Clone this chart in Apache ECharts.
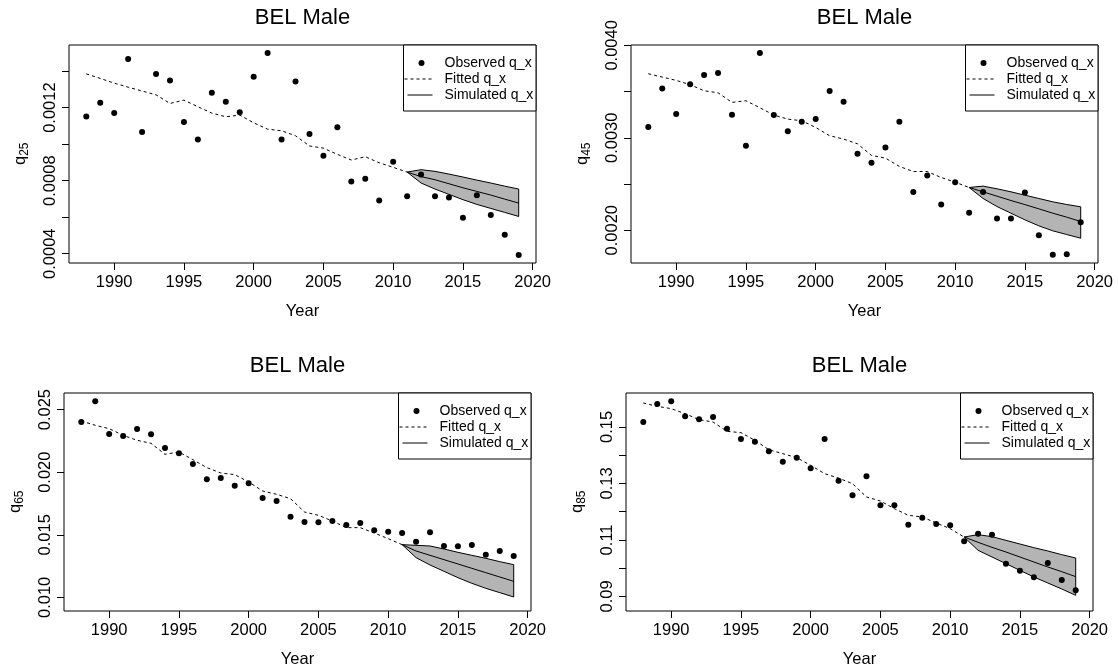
<!DOCTYPE html>
<html>
<head>
<meta charset="utf-8">
<script src="https://cdn.jsdelivr.net/npm/echarts@6/dist/echarts.min.js"></script>
<style>
  html, body { margin: 0; padding: 0; background: #fff; }
  #chart { width: 1118px; height: 669px; }
</style>
</head>
<body>
<div id="chart"></div>
<script>
// Years of observation and of the simulated projection
const years = [1988, 1989, 1990, 1991, 1992, 1993, 1994, 1995, 1996, 1997, 1998, 1999,
  2000, 2001, 2002, 2003, 2004, 2005, 2006, 2007, 2008, 2009, 2010, 2011,
  2012, 2013, 2014, 2015, 2016, 2017, 2018, 2019];
const fitYears = [1988, 1989, 1990, 1991, 1992, 1993, 1994, 1995, 1996, 1997, 1998, 1999,
  2000, 2001, 2002, 2003, 2004, 2005, 2006, 2007, 2008, 2009, 2010, 2011];
const simYears = [2011, 2012, 2013, 2014, 2015, 2016, 2017, 2018, 2019];

// Age 25
const q25Observed = [0.001152, 0.001227, 0.00117, 0.001466, 0.001066, 0.001384, 0.001349, 0.001121,
  0.001026, 0.001281, 0.001232, 0.001174, 0.001369, 0.001499, 0.001026, 0.001343,
  0.001055, 0.000936, 0.001092, 0.000796, 0.000811, 0.000692, 0.000904, 0.000714,
  0.000834, 0.000714, 0.000708, 0.000597, 0.00072, 0.000612, 0.000504, 0.000393];
const q25Fitted = [0.001385, 0.00136, 0.001334, 0.001312, 0.001291, 0.00127, 0.001223, 0.001241,
  0.001205, 0.00117, 0.00115, 0.001159, 0.001117, 0.001082, 0.001073, 0.001046,
  0.00099, 0.000978, 0.000944, 0.000913, 0.000931, 0.000898, 0.000873, 0.000847];
const q25SimLower = [0.000847, 0.000787, 0.000754, 0.000725, 0.000696, 0.00067, 0.000648, 0.000626, 0.000604];
const q25SimMedian = [0.000847, 0.000822, 0.000805, 0.000783, 0.000761, 0.000741, 0.000721, 0.000699, 0.000677];
const q25SimUpper = [0.000847, 0.00086, 0.000851, 0.000836, 0.00082, 0.000803, 0.000787, 0.00077, 0.000754];

// Age 45
const q45Observed = [0.003116, 0.003534, 0.003256, 0.003578, 0.003679, 0.0037, 0.003249, 0.002913,
  0.003917, 0.003246, 0.003072, 0.003173, 0.003202, 0.003505, 0.00339, 0.002827,
  0.002729, 0.002895, 0.003173, 0.002412, 0.002592, 0.002278, 0.00252, 0.002188,
  0.002412, 0.002126, 0.002126, 0.002408, 0.001946, 0.001733, 0.00174, 0.002087];
const q45Fitted = [0.003693, 0.003657, 0.003621, 0.003574, 0.003509, 0.003487, 0.003383, 0.003401,
  0.003325, 0.003246, 0.003202, 0.003184, 0.003112, 0.003022, 0.002986, 0.002935,
  0.002809, 0.00278, 0.00269, 0.002635, 0.002635, 0.00257, 0.00252, 0.002462];
const q45SimLower = [0.002462, 0.002343, 0.002256, 0.002184, 0.002112, 0.002047, 0.001993, 0.001953, 0.001913];
const q45SimMedian = [0.002462, 0.002415, 0.002368, 0.002321, 0.002277, 0.002231, 0.002184, 0.002141, 0.002094];
const q45SimUpper = [0.002462, 0.002477, 0.002448, 0.002415, 0.002379, 0.002343, 0.002307, 0.002278, 0.002253];

// Age 65
const q65Observed = [0.024014, 0.025666, 0.023055, 0.022896, 0.023455, 0.023029, 0.021937, 0.02151,
  0.020658, 0.019433, 0.019539, 0.018927, 0.019113, 0.017941, 0.017701, 0.016449,
  0.016023, 0.015996, 0.016103, 0.015783, 0.015943, 0.015357, 0.01525, 0.015144,
  0.014451, 0.015197, 0.014105, 0.014078, 0.014185, 0.013413, 0.013705, 0.013306];
const q65Fitted = [0.024094, 0.023748, 0.023482, 0.022949, 0.022549, 0.02231, 0.02143, 0.021617,
  0.021004, 0.020365, 0.019939, 0.019806, 0.01922, 0.0185, 0.018234, 0.017888,
  0.016822, 0.016556, 0.016103, 0.01557, 0.01557, 0.015144, 0.014691, 0.014212];
const q65SimLower = [0.014212, 0.013173, 0.012586, 0.012081, 0.011574, 0.011122, 0.010722, 0.010376, 0.01003];
const q65SimMedian = [0.014212, 0.013705, 0.013359, 0.013013, 0.012667, 0.01232, 0.011974, 0.011628, 0.011282];
const q65SimUpper = [0.014212, 0.014158, 0.014105, 0.013865, 0.013599, 0.013359, 0.01312, 0.012853, 0.012613];

// Age 85
const q85Observed = [0.151771, 0.158146, 0.159091, 0.153778, 0.152715, 0.153542, 0.14941, 0.14575,
  0.144805, 0.141382, 0.137722, 0.139139, 0.135361, 0.14575, 0.130992, 0.125798,
  0.132527, 0.122256, 0.122256, 0.115408, 0.117888, 0.115645, 0.115172, 0.109506,
  0.112221, 0.111867, 0.101595, 0.099116, 0.096755, 0.101831, 0.09581, 0.092151];
const q85Fitted = [0.1585, 0.15732, 0.156493, 0.154722, 0.152597, 0.151771, 0.148465, 0.147993,
  0.145278, 0.141972, 0.140555, 0.139139, 0.136423, 0.133472, 0.1319, 0.12993,
  0.125208, 0.123791, 0.121076, 0.118714, 0.118124, 0.116, 0.113993, 0.111042];
const q85SimLower = [0.111042, 0.106318, 0.103957, 0.101595, 0.099234, 0.096873, 0.094748, 0.092622, 0.09038];
const q85SimMedian = [0.111042, 0.109152, 0.10738, 0.105728, 0.103957, 0.102186, 0.100415, 0.098762, 0.096991];
const q85SimUpper = [0.111042, 0.111867, 0.111159, 0.10986, 0.108561, 0.107262, 0.106081, 0.104783, 0.103603];

// Tick marks and tick labels
const yearTicks = [1990, 1995, 2000, 2005, 2010, 2015, 2020];
const yearTickLabels = ['1990', '1995', '2000', '2005', '2010', '2015', '2020'];
const q25Ticks = [0.0004, 0.0006, 0.0008, 0.0010, 0.0012, 0.0014];
const q25TickLabels = ['0.0004', '0.0008', '0.0012'];
const q45Ticks = [0.0020, 0.0025, 0.0030, 0.0035, 0.0040];
const q45TickLabels = ['0.0020', '0.0030', '0.0040'];
const q65Ticks = [0.010, 0.015, 0.020, 0.025];
const q65TickLabels = ['0.010', '0.015', '0.020', '0.025'];
const q85Ticks = [0.09, 0.10, 0.11, 0.12, 0.13, 0.14, 0.15];
const q85TickLabels = ['0.09', '0.11', '0.13', '0.15'];

// Axis ranges
const yearRange = [1986.76, 2020.24];
const q25Range = [0.000349, 0.001543];
const q45Range = [0.001645, 0.004004];
const q65Range = [0.00891, 0.02633];
const q85Range = [0.08483, 0.16204];

const panels = [
  { age: '25', obs: q25Observed, fit: q25Fitted, lo: q25SimLower, med: q25SimMedian, hi: q25SimUpper,
    ticks: q25Ticks, labels: q25TickLabels, range: q25Range },
  { age: '45', obs: q45Observed, fit: q45Fitted, lo: q45SimLower, med: q45SimMedian, hi: q45SimUpper,
    ticks: q45Ticks, labels: q45TickLabels, range: q45Range },
  { age: '65', obs: q65Observed, fit: q65Fitted, lo: q65SimLower, med: q65SimMedian, hi: q65SimUpper,
    ticks: q65Ticks, labels: q65TickLabels, range: q65Range },
  { age: '85', obs: q85Observed, fit: q85Fitted, lo: q85SimLower, med: q85SimMedian, hi: q85SimUpper,
    ticks: q85Ticks, labels: q85TickLabels, range: q85Range }
];

// Plot-region layout (2 x 2)
const FONT = '"Liberation Sans", Arial, Helvetica, sans-serif';
const grids = [
  { left: 69, top: 45, width: 467, height: 218 },
  { left: 631, top: 45, width: 467, height: 218 },
  { left: 64, top: 393, width: 467, height: 218 },
  { left: 626, top: 393, width: 467, height: 218 }
];
const BAND_FILL = '#b4b4b4';

const zip = (xs, ys) => xs.map((x, i) => [x, ys[i]]);

function legendGroup(g) {
  const w = 132.5, h = 66;
  const textEl = (t, y) => ({
    type: 'text', x: 41, y: y,
    style: { text: t, fontSize: 14, fontFamily: FONT, fill: '#000',
      align: 'left', verticalAlign: 'middle', textAlign: 'left', textVerticalAlign: 'middle' }
  });
  return {
    type: 'group', x: g.left + g.width - w, y: g.top, z: 100,
    children: [
      { type: 'rect', shape: { x: 0, y: 0, width: w, height: h },
        style: { fill: '#fff', stroke: '#000', lineWidth: 1 } },
      { type: 'circle', shape: { cx: 18, cy: 18, r: 3 }, style: { fill: '#000' } },
      { type: 'line', shape: { x1: 1, y1: 34, x2: 29, y2: 34 },
        style: { stroke: '#000', lineWidth: 1, lineDash: [3, 3] } },
      { type: 'line', shape: { x1: 4, y1: 50, x2: 29, y2: 50 },
        style: { stroke: '#000', lineWidth: 1 } },
      textEl('Observed q_x', 18),
      textEl('Fitted q_x', 34),
      textEl('Simulated q_x', 50)
    ]
  };
}

function yTitleGroup(g, age) {
  return {
    type: 'group', x: g.left - 49, y: g.top + g.height / 2, rotation: Math.PI / 2, z: 100,
    children: [
      { type: 'text', x: -11, y: 0,
        style: { text: 'q', fontSize: 16.5, fontFamily: FONT, fill: '#000',
          align: 'left', verticalAlign: 'middle', textAlign: 'left', textVerticalAlign: 'middle' } },
      { type: 'text', x: -1.8, y: 5,
        style: { text: age, fontSize: 12, fontFamily: FONT, fill: '#000',
          align: 'left', verticalAlign: 'middle', textAlign: 'left', textVerticalAlign: 'middle' } }
    ]
  };
}

// Grey polygon spanning the simulated interval, outlined in black
function bandRenderer(count) {
  return function (params, api) {
    if (params.dataIndex !== 0) return null;
    const upper = [], lower = [];
    for (let k = 0; k < count; k++) {
      const x = api.value(0, k);
      upper.push(api.coord([x, api.value(2, k)]));
      lower.push(api.coord([x, api.value(1, k)]));
    }
    return {
      type: 'polygon',
      shape: { points: upper.concat(lower.reverse()) },
      style: { fill: BAND_FILL, stroke: '#000', lineWidth: 1 }
    };
  };
}

const xAxes = [], yAxes = [], series = [], titles = [], graphics = [];

panels.forEach((p, i) => {
  const g = grids[i];
  titles.push({
    text: 'BEL Male', left: g.left + g.width / 2, top: g.top - 38.5, textAlign: 'center', padding: 0,
    textStyle: { fontSize: 22, fontWeight: 'normal', color: '#000', fontFamily: FONT }
  });
  xAxes.push({
    type: 'value', gridIndex: i, min: yearRange[0], max: yearRange[1],
    axisLine: { show: false }, splitLine: { show: false },
    axisTick: { show: true, inside: false, length: 7, customValues: yearTicks,
      lineStyle: { color: '#000', width: 1 } },
    axisLabel: { customValues: yearTicks, margin: 11, fontSize: 16.5, fontFamily: FONT, color: '#000',
      formatter: v => yearTickLabels[yearTicks.indexOf(Math.round(v))] || '' },
    name: 'Year', nameLocation: 'middle', nameGap: 40,
    nameTextStyle: { fontSize: 16.5, fontFamily: FONT, color: '#000' }
  });
  const labelValues = p.labels.map(Number);
  yAxes.push({
    type: 'value', gridIndex: i, min: p.range[0], max: p.range[1],
    axisLine: { show: false }, splitLine: { show: false },
    axisTick: { show: true, inside: false, length: 7, customValues: p.ticks,
      lineStyle: { color: '#000', width: 1 } },
    axisLabel: { customValues: labelValues, rotate: 90, margin: 10, fontSize: 16.5, fontFamily: FONT, color: '#000',
      formatter: v => {
        const k = labelValues.findIndex(t => Math.abs(t - v) < 1e-9);
        return k >= 0 ? p.labels[k] : '';
      } }
  });

  // simulated interval
  series.push({
    type: 'custom', xAxisIndex: i, yAxisIndex: i, z: 1,
    data: simYears.map((y, k) => [y, p.lo[k], p.hi[k]]),
    encode: { x: 0, y: [1, 2] },
    renderItem: bandRenderer(simYears.length)
  });
  // simulated median
  series.push({
    type: 'line', xAxisIndex: i, yAxisIndex: i, symbol: 'none', z: 3,
    data: zip(simYears, p.med), lineStyle: { color: '#000', width: 1 }
  });
  // fitted rates
  series.push({
    type: 'line', xAxisIndex: i, yAxisIndex: i, symbol: 'none', z: 3,
    data: zip(fitYears, p.fit), lineStyle: { color: '#000', width: 1, type: [3, 3] }
  });
  // observed rates
  series.push({
    type: 'scatter', xAxisIndex: i, yAxisIndex: i, z: 4, symbol: 'circle', symbolSize: 6,
    data: zip(years, p.obs), itemStyle: { color: '#000', opacity: 1 }
  });

  graphics.push(legendGroup(g));
  graphics.push(yTitleGroup(g, p.age));
});

const chart = echarts.init(document.getElementById('chart'), null, { renderer: 'canvas' });
chart.setOption({
  animation: false,
  backgroundColor: '#fff',
  title: titles,
  grid: grids.map(g => Object.assign({ show: true, borderColor: '#000', borderWidth: 1,
    backgroundColor: 'transparent', containLabel: false }, g)),
  xAxis: xAxes,
  yAxis: yAxes,
  series: series,
  graphic: graphics
});
</script>
</body>
</html>
